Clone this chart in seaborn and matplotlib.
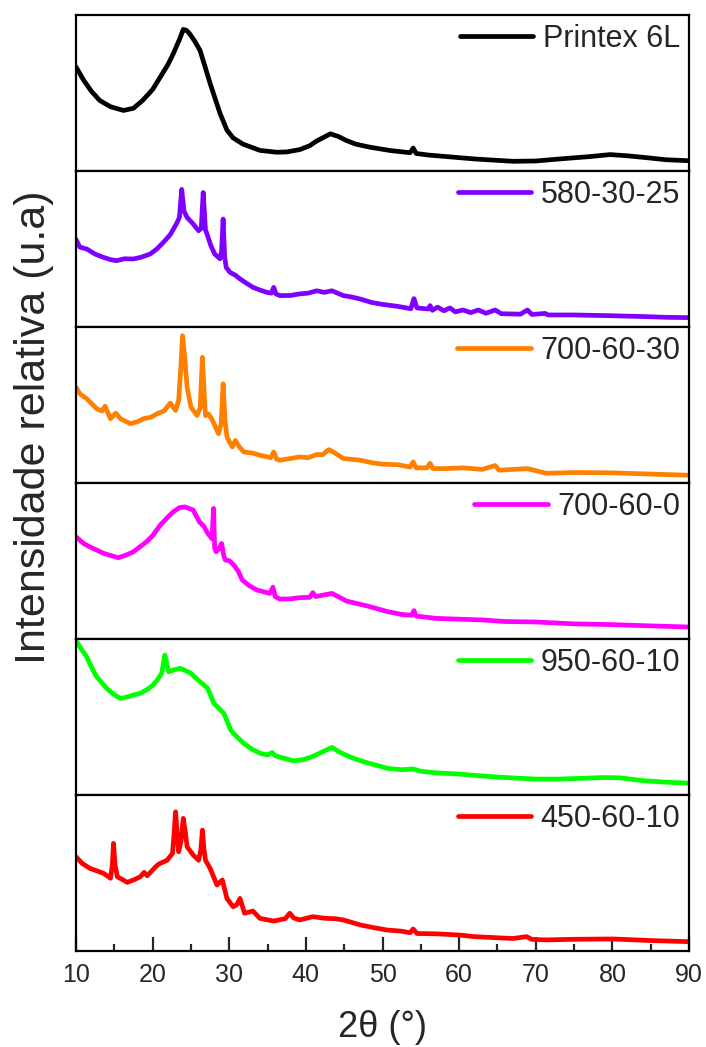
import pandas as pd
import seaborn as sns
import matplotlib.pyplot as plt
from matplotlib.ticker import MultipleLocator

# ---- diffraction patterns (relative intensity, arbitrary units) ----
names = ["Printex 6L", "580-30-25", "700-60-30", "700-60-0", "950-60-10", "450-60-10"]
colors = ["#000000", "#8000FF", "#FF8000", "#FF00FF", "#00FF00", "#FF0000"]

printex_x = [10, 11, 12, 13.1, 14.5, 16.2, 17.5, 18.7, 20, 21, 22, 22.7, 23.5, 24.0, 24.4, 24.8,
             25.5, 26.2, 27.5, 28.8, 29.7, 30.5, 31.8, 34, 36.2, 37.5, 39.2, 40.5, 41.4, 43.2,
             44.2, 45.3, 46.5, 48.4, 51, 53.6, 54, 54.4, 56, 58.4, 62, 67, 70, 73.6, 77, 79.7,
             82, 84.5, 87, 89.8]
printex_y = [66.5, 58, 51, 45, 41, 38.6, 40, 45, 52, 60, 68, 75, 84, 90.5, 90, 88,
             83, 77, 56, 36.7, 26, 21, 17, 13, 11.8, 12, 13.5, 16, 19, 23.6,
             22, 19.3, 17, 15, 12.9, 11.5, 14.5, 11, 10, 9, 7.5, 6, 6.2, 7.7, 9, 10.3,
             9.5, 8.3, 7, 6.4]

s580_x = [10, 10.5, 11.4, 12.5, 13.6, 14.5, 15.3, 16.3, 17.5, 18.5, 19.7, 20.6, 21.4, 22.3,
          23.1, 23.5, 23.8, 24.1, 24.5, 25.3, 26, 26.35, 26.6, 26.9, 27.1, 27.6, 28.1, 28.8,
          29.0, 29.2, 29.4, 29.6, 30.1, 30.8, 31.4, 32.2, 33.1, 34.0, 34.9, 35.5, 35.8, 36.1,
          36.6, 38, 39.2, 40.3, 41.4, 42.4, 43.4, 44.9, 46, 47.1, 48.6, 50.1, 52, 53.7, 54.1,
          54.5, 56, 56.2, 56.5, 57.2, 58, 58.8, 59.5, 60.5, 61.5, 62.5, 63.5, 64.7, 65.5, 68,
          68.9, 69.5, 71.2, 71.6, 75, 80, 84, 87, 89.8]
s580_y = [56, 51, 49.8, 46.5, 44.4, 43, 42.3, 43.5, 43.4, 44.5, 46.6, 50, 54, 59,
          65.8, 70, 88, 74, 70, 65.8, 61.5, 63, 86, 62, 59.4, 52, 46.6, 43.5,
          48, 69, 45, 38, 34.8, 33, 30.6, 28, 25.2, 23.5, 22, 21.5, 25.2, 21,
          19.9, 20, 21, 21.5, 23, 22, 23, 19.9, 19, 17.7, 15.5, 14.2, 13, 11.5, 18,
          12, 11.3, 13.5, 10.5, 12.5, 10.2, 12, 9.5, 10.7, 9.0, 10.7, 8.6, 10.7, 8.3, 8.0,
          10.7, 7.8, 8.5, 7.5, 7.5, 7, 6.5, 6, 5.8]

s700a_x = [10, 10.5, 11.4, 12.7, 13.4, 13.8, 14.5, 15.2, 15.8, 17.1, 18, 18.8, 19.8, 20.6,
           21.5, 22.3, 23, 23.4, 23.7, 23.9, 24.2, 24.5, 25, 25.8, 26.2, 26.5, 26.75, 26.9,
           27.3, 27.7, 28.6, 28.95, 29.2, 29.45, 29.7, 30.4, 30.8, 31.3, 31.9, 33, 34, 35.4,
           35.8, 36.2, 36.6, 38, 39.2, 40.3, 41.4, 42.2, 43, 43.8, 44.9, 47.1, 48.6, 50.1,
           52, 53.6, 54, 54.4, 55.8, 56.2, 56.6, 58, 60.5, 63, 64.7, 65.2, 68.9, 71.4, 75,
           80, 85, 89.8]
s700a_y = [61.2, 57, 53.8, 47.4, 46, 49, 41, 44.6, 41, 37.8, 39, 41, 42, 44.2,
           46, 51, 46.3, 52.7, 75, 94.2, 80, 61.2, 48.4, 43.1, 48, 80.4, 55, 43,
           44, 41, 31.4, 38, 63.4, 40, 29.3, 22.9, 27, 23, 19.7, 19, 17.6, 16,
           19.7, 15, 14.4, 15.5, 16.5, 16, 18, 18, 21.2, 19, 15.5, 14.4, 12.8, 11.8,
           11.5, 10, 13.3, 9.5, 9.5, 12.4, 9, 9, 9.5, 8.5, 11, 8, 9, 6, 6.5,
           6.3, 5.5, 4.8]

s700b_x = [10, 11, 11.8, 13.6, 15.5, 16.5, 17.5, 19.2, 20, 21, 22, 22.7, 23.5, 24.2, 25.3,
           26.1, 26.7, 27.2, 27.75, 27.95, 28.1, 28.3, 28.7, 29, 29.3, 29.5, 30, 30.6, 31.2,
           31.7, 32.6, 33.6, 35.3, 35.7, 36.0, 36.6, 38, 39.2, 40.5, 40.9, 41.3, 42.3, 43.4,
           44.2, 45.3, 47.9, 50.7, 52.5, 53.8, 54.1, 54.4, 57, 60, 63, 66, 70, 75, 80, 85,
           89.8]
s700b_y = [65.3, 61, 58.9, 54.7, 51.9, 53.5, 55.7, 62.1, 66, 72.8, 78, 81.3, 84, 84.5, 82.4,
           74.9, 72, 67.5, 64, 83.5, 58, 55.7, 58, 61, 53, 50.4, 50, 47.2, 43,
           37.6, 34, 31.2, 29, 33, 27, 25.4, 25.5, 26.3, 26.5, 29.5, 27, 28, 29,
           27, 24.1, 21.1, 17.3, 15.5, 15.0, 18, 14.5, 13, 12.5, 12, 11, 10.7, 9.5, 9, 8.2,
           7.5]

s950_x = [10, 10.6, 11.4, 12, 12.7, 14, 15, 15.8, 16.6, 17.5, 18.4, 19.2, 20, 20.6, 21.2,
          21.6, 21.9, 22.1, 22.8, 23.6, 24.3, 25, 25.8, 26.7, 27.2, 28, 28.7, 29.3, 30.2, 31,
          31.9, 33, 34.1, 35, 35.6, 36, 37, 38.4, 39.7, 41, 42.4, 43.4, 44.5, 45.7, 47, 48.3,
          49.5, 50.7, 52.5, 54, 55, 57, 60, 63, 66, 70, 73, 76, 79, 81, 84, 87, 89.8]
s950_y = [99, 94, 88.4, 82, 75.6, 68.2, 64, 61.7, 62.5, 63.9, 65, 67.1, 70, 73.5, 78,
          89.5, 83, 78.8, 80, 81, 79.5, 77.8, 74, 70.3, 68, 58.5, 55, 52.1, 41.4, 37,
          32.9, 29, 26.4, 25.5, 27, 25, 23.5, 21.7, 22.5, 24.7, 28, 30.3, 27, 24.3, 22, 20,
          18.5, 16.8, 16, 16.5, 15, 14, 13.2, 12, 11, 10, 10, 10.5, 11, 10.8, 9, 8, 7.4]

s450_x = [10, 10.8, 11.8, 13.6, 14.5, 14.75, 14.9, 15.1, 15.4, 16.7, 17.6, 18.4, 18.9, 19.3,
          20.4, 20.8, 21.9, 22.6, 22.8, 23.0, 23.2, 23.4, 23.7, 24.0, 24.3, 24.5, 25.3, 26,
          26.3, 26.5, 26.7, 26.9, 27.5, 27.9, 28.4, 28.8, 29.1, 29.7, 30.5, 31.0, 31.4, 32,
          33.1, 34, 35.8, 37.3, 37.9, 38.4, 39.2, 40.9, 42.6, 43.8, 44.9, 47.1, 48.8, 50.5,
          52.5, 53.6, 54, 54.5, 57, 60.1, 62, 64.9, 67, 68.8, 69.5, 71.4, 75, 80.1, 85, 89.8]
s450_y = [60.2, 56, 52.8, 49.6, 46.4, 55, 68.8, 55, 47.4, 43.8, 45.5, 47.4, 50.2, 48,
          53.8, 55.5, 58, 62.4, 75, 89, 75, 63.4, 70, 84.8, 75, 66.6, 61.3, 58,
          65, 77.3, 65, 58, 52.8, 48, 42.1, 44, 45.3, 33.5, 28.2, 29.5, 33.5, 24,
          25.4, 20.7, 19, 20.5, 24, 21, 19.7, 21.8, 20.7, 20.5, 19.7, 16.5, 14.8, 13.3,
          12.5, 11.5, 13.9, 11, 10.8, 10, 9, 8.3, 7.8, 9, 7.2, 6.9, 7.3, 7.5, 6.5, 5.8]

xs = [printex_x, s580_x, s700a_x, s700b_x, s950_x, s450_x]
ys = [printex_y, s580_y, s700a_y, s700b_y, s950_y, s450_y]

x_ticks = [10, 20, 30, 40, 50, 60, 70, 80, 90]

sns.set_style("white")
plt.rcParams['font.family'] = ['Liberation Sans', 'DejaVu Sans']

fig = plt.figure(figsize=(7.06, 10.47), dpi=100)
gs = fig.add_gridspec(6, 1, left=0.1076, right=0.976, top=0.986, bottom=0.092, hspace=0)
axes = [fig.add_subplot(gs[i]) for i in range(6)]

for i, (ax, name, color, x, y) in enumerate(zip(axes, names, colors, xs, ys)):
    df = pd.DataFrame({"two_theta": x, "intensity": y})
    sns.lineplot(data=df, x="two_theta", y="intensity", ax=ax, color=color,
                 linewidth=3.4, label=name, estimator=None, sort=False)
    ax.set_xlim(10, 90)
    ax.set_ylim(0, 100)
    ax.set_yticks([])
    ax.set_xlabel("")
    ax.set_ylabel("")
    for sp in ax.spines.values():
        sp.set_visible(True)
        sp.set_color("black")
        sp.set_linewidth(1.6)
    leg = ax.legend(loc="upper right", frameon=False, fontsize=22, handlelength=2.4,
                    handletextpad=0.3, borderpad=0.1, borderaxespad=0.2)
    for h in leg.get_lines():
        h.set_linewidth(3.4)
    if i < 5:
        ax.tick_params(axis="x", which="both", bottom=False, labelbottom=False)
    else:
        ax.set_xticks(x_ticks)
        ax.xaxis.set_minor_locator(MultipleLocator(5))
        ax.tick_params(axis="x", which="major", direction="in", length=10, width=1.6,
                       labelsize=18, pad=9, bottom=True, top=False)
        ax.tick_params(axis="x", which="minor", direction="in", length=5, width=1.6,
                       bottom=True, top=False)

fig.text(0.5418, 0.019, "2θ (°)", ha="center", va="center", fontsize=26)
fig.text(0.048, 0.592, "Intensidade relativa (u.a)", ha="center", va="center",
         rotation=90, fontsize=31)

fig.savefig("out.png", dpi=100)
